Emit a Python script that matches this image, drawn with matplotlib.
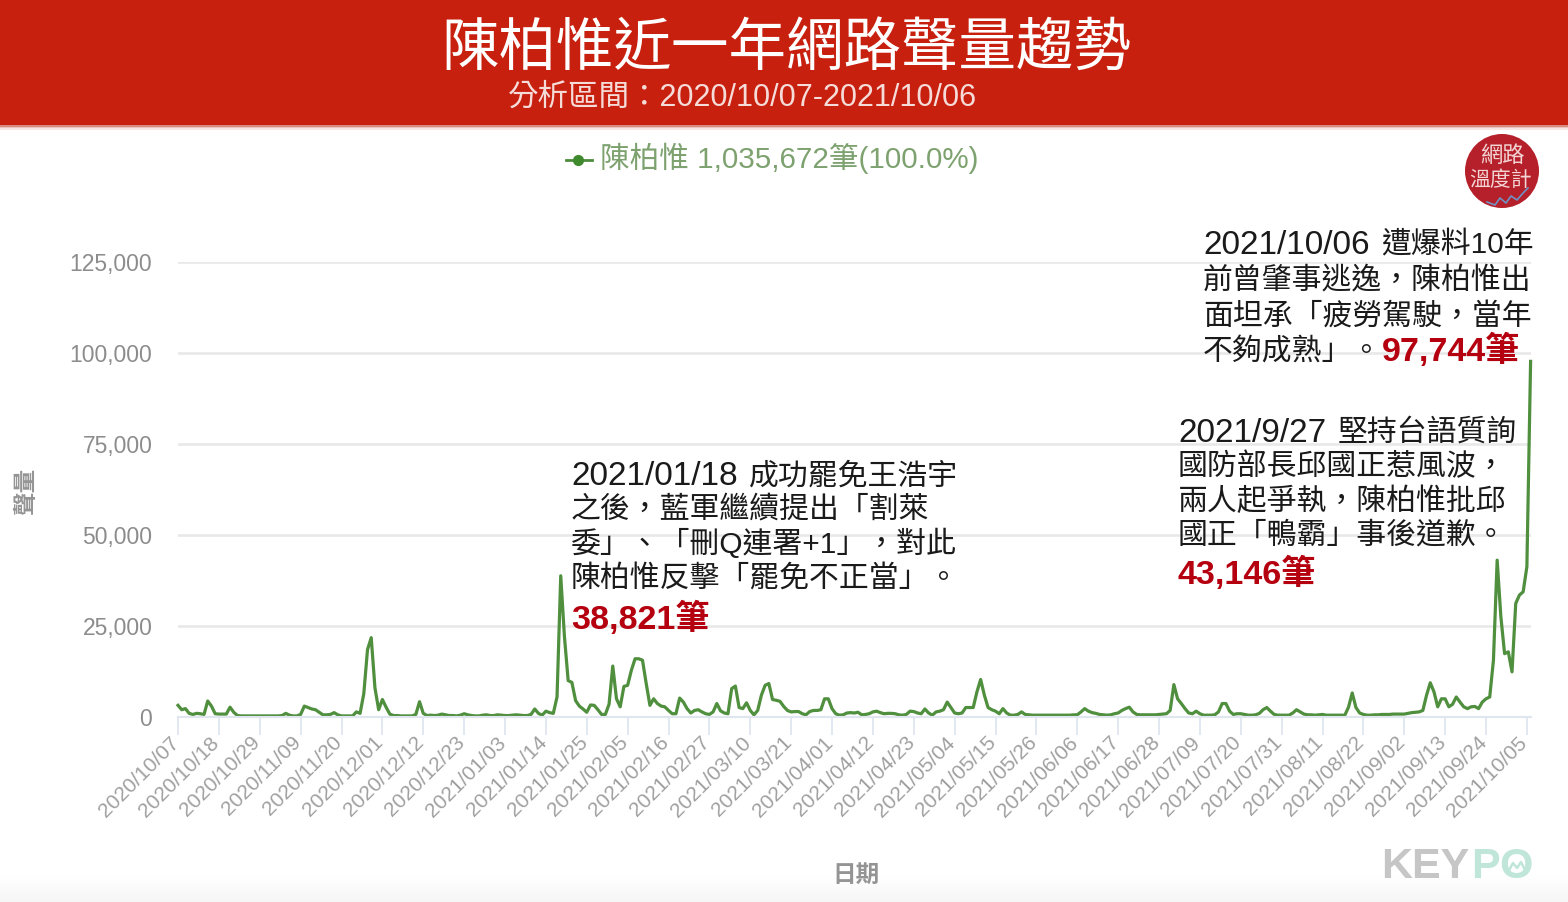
import matplotlib
matplotlib.use('Agg')
import matplotlib.pyplot as plt
from matplotlib.patches import Rectangle, Circle
import numpy as np

plt.rcParams['font.family'] = ['Liberation Sans', 'Noto Sans CJK TC', 'DejaVu Sans']

title = '陳柏惟近一年網路聲量趨勢'
subtitle = '分析區間：2020/10/07-2021/10/06'
legend_label = '陳柏惟 1,035,672筆(100.0%)'

# daily volume in thousands, one row per 11 day tick interval
volume_k = [
    3.2, 2.0, 2.3, 1.0, 0.7, 1.0, 0.9, 0.7, 4.4, 3.0, 0.9,
    0.8, 0.8, 0.8, 2.7, 1.3, 0.4, 0.3, 0.3, 0.3, 0.3, 0.3,
    0.3, 0.3, 0.3, 0.3, 0.3, 0.3, 0.4, 1.0, 0.5, 0.3, 0.3,
    0.7, 3.0, 2.6, 2.2, 2.0, 1.3, 0.6, 0.6, 0.7, 1.2, 0.6,
    0.3, 0.3, 0.3, 0.3, 1.4, 1.0, 6.4, 18.5, 21.8, 8.0, 2.0,
    4.8, 2.7, 0.8, 0.4, 0.4, 0.3, 0.3, 0.3, 0.3, 0.7, 4.2,
    1.0, 0.4, 0.5, 0.4, 0.5, 0.8, 0.6, 0.4, 0.4, 0.3, 0.5,
    0.9, 0.6, 0.4, 0.3, 0.3, 0.5, 0.6, 0.4, 0.4, 0.6, 0.5,
    0.4, 0.4, 0.5, 0.6, 0.5, 0.4, 0.4, 0.7, 2.2, 1.0, 0.5,
    1.6, 1.2, 1.0, 5.5, 38.8, 22.0, 10.0, 9.5, 4.5, 3.0, 2.2,
    1.3, 3.3, 3.2, 2.0, 0.7, 0.7, 3.5, 14.0, 5.0, 2.8, 8.4,
    8.7, 12.8, 16.0, 16.0, 15.6, 9.2, 3.2, 5.0, 3.7, 3.0, 2.8,
    1.8, 0.9, 0.9, 5.2, 4.1, 2.3, 1.1, 1.8, 2.0, 1.4, 0.9,
    0.7, 1.4, 3.7, 1.7, 1.1, 0.9, 7.8, 8.5, 2.6, 2.3, 3.9,
    1.8, 0.6, 1.8, 6.0, 8.7, 9.2, 4.8, 4.6, 4.3, 2.9, 1.8,
    1.4, 1.5, 1.5, 0.9, 0.6, 1.5, 1.8, 1.8, 2.0, 5.0, 5.0,
    2.3, 0.9, 0.5, 0.6, 1.1, 1.2, 1.1, 1.3, 0.6, 0.7, 0.9,
    1.4, 1.6, 1.2, 0.9, 1.0, 1.0, 0.9, 0.6, 0.5, 0.7, 1.6,
    1.5, 1.1, 0.9, 2.2, 1.1, 0.5, 1.4, 1.6, 2.0, 4.1, 2.6,
    1.1, 0.9, 1.1, 2.6, 2.6, 2.6, 6.9, 10.3, 6.0, 2.6, 2.0,
    1.6, 0.9, 2.3, 1.1, 0.5, 0.5, 0.7, 1.4, 0.7, 0.6, 0.5,
    0.5, 0.5, 0.5, 0.5, 0.5, 0.5, 0.5, 0.5, 0.5, 0.5, 0.6,
    0.6, 1.4, 2.3, 1.6, 1.2, 1.0, 0.7, 0.6, 0.5, 0.6, 0.9,
    1.1, 1.8, 2.3, 2.7, 1.4, 0.7, 0.6, 0.6, 0.6, 0.6, 0.6,
    0.7, 0.8, 0.9, 1.8, 8.9, 5.0, 3.7, 2.3, 1.1, 0.9, 1.6,
    0.9, 0.5, 0.5, 0.5, 0.6, 1.4, 3.7, 3.7, 1.6, 0.7, 0.9,
    0.9, 0.7, 0.5, 0.5, 0.6, 1.0, 2.0, 2.6, 1.6, 0.7, 0.5,
    0.5, 0.5, 0.5, 1.1, 2.0, 1.4, 0.8, 0.6, 0.6, 0.5, 0.6,
    0.7, 0.5, 0.5, 0.5, 0.5, 0.5, 0.5, 2.7, 6.6, 2.6, 1.1,
    0.7, 0.5, 0.5, 0.6, 0.6, 0.7, 0.7, 0.7, 0.8, 0.8, 0.8,
    0.8, 1.0, 1.2, 1.3, 1.4, 1.8, 6.0, 9.4, 6.9, 2.8, 5.0,
    5.0, 2.8, 3.5, 5.5, 4.1, 2.8, 2.3, 2.8, 2.9, 2.3, 4.1,
    5.0, 5.5, 15.6, 43.1, 27.5, 17.4, 17.9, 12.4, 31.2, 33.5, 34.4,
    41.3, 97.7,
]

date_labels = [
    '2020/10/07', '2020/10/18', '2020/10/29', '2020/11/09', '2020/11/20',
    '2020/12/01', '2020/12/12', '2020/12/23', '2021/01/03', '2021/01/14',
    '2021/01/25', '2021/02/05', '2021/02/16', '2021/02/27', '2021/03/10',
    '2021/03/21', '2021/04/01', '2021/04/12', '2021/04/23', '2021/05/04',
    '2021/05/15', '2021/05/26', '2021/06/06', '2021/06/17', '2021/06/28',
    '2021/07/09', '2021/07/20', '2021/07/31', '2021/08/11', '2021/08/22',
    '2021/09/02', '2021/09/13', '2021/09/24', '2021/10/05',
]
y_ticks = [0, 25000, 50000, 75000, 100000, 125000]

note_a = ['之後，藍軍繼續提出「割萊', '委」、「刪Q連署+1」，對此', '陳柏惟反擊「罷免不正當」。']
note_b = ['國防部長邱國正惹風波，', '兩人起爭執，陳柏惟批邱', '國正「鴨霸」事後道歉。']
note_c = ['前曾肇事逃逸，陳柏惟出', '面坦承「疲勞駕駛，當年', '不夠成熟」。']

W, H = 1568, 902
fig = plt.figure(figsize=(W / 100, H / 100), dpi=100)

# overlay in pixel coordinates for band, notes and logos
bg = fig.add_axes([0, 0, 1, 1], zorder=0)
top = fig.add_axes([0, 0, 1, 1], zorder=5)
top.patch.set_alpha(0)

bg.imshow(np.linspace(1, 0.96, 30).reshape(-1, 1), cmap='gray', vmin=0, vmax=1,
          extent=[0, W, 902, 872], aspect='auto')
for a in (bg, top):
    a.set_xlim(0, W)
    a.set_ylim(H, 0)
    a.axis('off')

bg.add_patch(Rectangle((0, 0), W, 125, color='#c8200f', lw=0))
for i, c in enumerate(['#d98a80', '#ecc4bf', '#f7e6e4']):
    bg.add_patch(Rectangle((0, 125 + i * 1.5), W, 1.5, color=c, lw=0))
bg.text(786, 50, title, color='white', fontsize=41.4, ha='center', va='center')
bg.text(743, 98, subtitle, color='#f6dcd8', fontsize=22, ha='center', va='center')

# chart area: x 178-1531, y 717 (0) to 262 (125000)
ax = fig.add_axes([178 / W, 1 - 717 / H, (1530.6 - 178) / W, (717 - 262) / H], zorder=2)
ax.patch.set_alpha(0)
days = np.arange(len(volume_k))
ax.plot(days, np.array(volume_k) * 1000, color='#4f8f3e', lw=2.3, solid_joinstyle='round', clip_on=False)
ax.set_xlim(0, 364)
ax.set_ylim(0, 125000)
ax.set_yticks(y_ticks)
ax.set_yticklabels([f'{v:,}' for v in y_ticks], fontsize=16.5, color='#8c8c8c')
tick_days = np.arange(len(date_labels)) * 11
ax.set_xticks(tick_days)
ax.set_xticklabels([])
# tick labels sit up against the ticks and left of them
for d, label in zip(tick_days, date_labels):
    ax.annotate(label, xy=(d, 0), xycoords=('data', 'axes fraction'), xytext=(-6.5, -11.5),
                textcoords='offset points', fontsize=15, color='#a0a0a0', rotation=45,
                ha='right', va='top', rotation_mode='anchor', annotation_clip=False)
ax.grid(axis='y', color='#e8e8e8', lw=1.9)
ax.set_axisbelow(True)
ax.tick_params(axis='y', length=0, pad=18.5)
ax.tick_params(axis='x', length=13, width=1.3, color='#dfe6f0')
for s in ['top', 'left', 'right']:
    ax.spines[s].set_visible(False)
ax.spines['bottom'].set_color('#dfe6f0')
ax.spines['bottom'].set_linewidth(1.5)

bg.text(27, 491, '聲量', color='#949494', fontsize=17, rotation=90, ha='center', va='center', weight='bold')
bg.text(856, 875, '日期', color='#949494', fontsize=17, ha='center', va='center', weight='bold')

# legend
bg.plot([566, 592], [160, 160], color='#4d8c3c', lw=2)
bg.plot([578], [160], 'o', color='#3f8a2c', ms=7)
bg.text(600, 158, legend_label, color='#7da26f', fontsize=21.3, ha='left', va='center')

# notes, dates are set larger than the chinese text
note_size = 21.5
date_size = 24
red_size = 24.6
ink = '#1a1a1a'
red = '#b4000f'

top.text(571, 476.5, '2021/01/18', color=ink, fontsize=date_size, ha='left', va='center')
top.text(749, 476.5, '成功罷免王浩宇', color=ink, fontsize=note_size, ha='left', va='center')
for i, line in enumerate(note_a):
    top.text(571, 510 + i * 34.3, line, color=ink, fontsize=note_size, ha='left', va='center')
top.text(571, 619, '38,821筆', color=red, fontsize=red_size, weight='bold', ha='left', va='center')

top.text(1178, 433, '2021/9/27', color=ink, fontsize=date_size, ha='left', va='center')
top.text(1338, 433, '堅持台語質詢', color=ink, fontsize=note_size, ha='left', va='center')
for i, line in enumerate(note_b):
    top.text(1178, 467 + i * 34.3, line, color=ink, fontsize=note_size, ha='left', va='center')
top.text(1178, 574, '43,146筆', color=red, fontsize=red_size, weight='bold', ha='left', va='center')

top.text(1203, 245, '2021/10/06', color=ink, fontsize=date_size, ha='left', va='center')
top.text(1381, 245, '遭爆料10年', color=ink, fontsize=note_size, ha='left', va='center')
for i, line in enumerate(note_c):
    top.text(1203, 281 + i * 35.5, line, color=ink, fontsize=note_size, ha='left', va='center')
top.text(1382, 351, '97,744筆', color=red, fontsize=red_size, weight='bold', ha='left', va='center')

# temperature logo
bg.add_patch(Circle((1502, 171), 37, color='#b5202a', lw=0))
bg.text(1502, 156, '網路', color='#f3d5d5', fontsize=16, ha='center', va='center')
bg.text(1501, 180, '溫度計', color='#f3d5d5', fontsize=15, ha='center', va='center')
bg.plot([1487, 1495, 1500, 1506, 1511, 1517, 1524, 1528], [202, 205, 198, 203, 196, 200, 192, 188],
        color='#6f93c4', lw=1.2)

# KEYPO mark
bg.text(1381, 867, 'KEY', color='#c6c6c6', fontsize=31, weight='bold', ha='left', va='center')
bg.text(1471, 867, 'P', color='#bfe6d8', fontsize=31, weight='bold', ha='left', va='center')
bg.text(1499, 867, 'O', color='#bfe6d8', fontsize=31, weight='bold', ha='left', va='center')
bg.plot([1508, 1513, 1517, 1521, 1526], [872, 863, 868, 862, 872], color='#bfe6d8', lw=1.8)

fig.savefig('out.png', dpi=100)
